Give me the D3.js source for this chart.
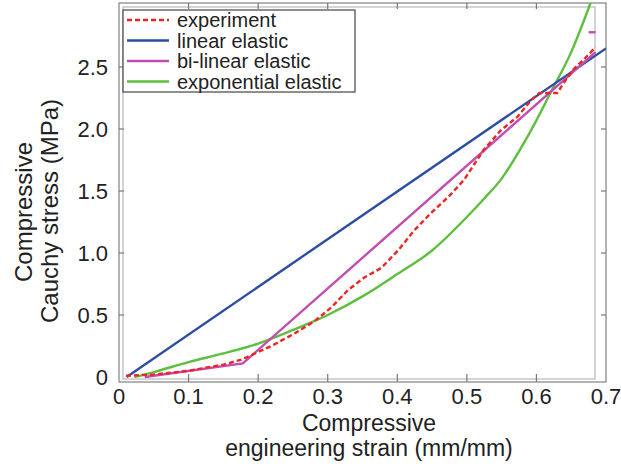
<!DOCTYPE html>
<html><head><meta charset="utf-8">
<script src="https://cdn.jsdelivr.net/npm/d3@7"></script>
<style>body{margin:0;background:#fff}svg{display:block}text{font-family:"Liberation Sans",Arial,sans-serif;fill:#222}</style>
</head><body><svg id="c" width="621" height="467"></svg>
<script>
const xTicks = [0, 0.1, 0.2, 0.3, 0.4, 0.5, 0.6, 0.7];
const xTickLabels = ["0", "0.1", "0.2", "0.3", "0.4", "0.5", "0.6", "0.7"];
const yTicks = [0, 0.5, 1.0, 1.5, 2.0, 2.5];
const yTickLabels = ["0", "0.5", "1.0", "1.5", "2.0", "2.5"];

const experimentX = [0.010,0.050,0.100,0.150,0.176,0.219,0.252,0.281,0.305,0.329,0.352,0.377,0.401,0.424,0.448,0.473,0.496,0.524,0.549,0.573,0.592,0.604,0.630,0.639,0.653,0.668,0.685];
const experimentY = [0.01,0.02,0.05,0.10,0.14,0.25,0.35,0.45,0.56,0.70,0.80,0.88,1.02,1.18,1.32,1.45,1.59,1.83,1.99,2.10,2.23,2.29,2.29,2.37,2.48,2.56,2.66];
const linearX = [0.011, 0.700];
const linearY = [0.00, 2.65];
const bilinearX = [0.037, 0.178, 0.685];
const bilinearY = [0.00, 0.11, 2.62];
const bilinearTailX = [0.675, 0.685];
const bilinearTailY = [2.78, 2.78];
const exponentialX = [0.022,0.050,0.100,0.150,0.200,0.250,0.300,0.350,0.400,0.450,0.500,0.525,0.550,0.575,0.600,0.620,0.650,0.680];
const exponentialY = [0.00,0.04,0.12,0.19,0.27,0.38,0.50,0.65,0.83,1.02,1.29,1.44,1.60,1.82,2.07,2.29,2.62,3.05];

const seriesNames = ["experiment", "linear elastic", "bi-linear elastic", "exponential elastic"];
const seriesColors = ["#f02424", "#2b4da3", "#c04db0", "#5cbf3f"];

const svg = d3.select("#c");
const outer = {l:119, r:606, t:3, b:382};
const inner = {l:123, r:595, t:7, b:379};
const x = d3.scaleLinear().domain([0, 0.7]).range([outer.l, outer.r]);
const y = d3.scaleLinear().domain([0, 3]).range([377, 5]);

svg.append("defs").append("clipPath").attr("id","clip")
  .append("rect").attr("x",outer.l).attr("y",outer.t).attr("width",outer.r-outer.l).attr("height",outer.b-outer.t);

// frames
svg.append("rect").attr("x",inner.l).attr("y",inner.t).attr("width",inner.r-inner.l).attr("height",inner.b-inner.t)
  .attr("fill","none").attr("stroke","#b8b8b8").attr("stroke-width",1.2);
svg.append("rect").attr("x",outer.l).attr("y",outer.t).attr("width",outer.r-outer.l).attr("height",outer.b-outer.t)
  .attr("fill","none").attr("stroke","#8a8a8a").attr("stroke-width",1.3);

// ticks
const tk = svg.append("g").attr("stroke","#777").attr("stroke-width",1.2);
xTicks.slice(1,-1).forEach(v=>{
  tk.append("line").attr("x1",x(v)).attr("x2",x(v)).attr("y1",outer.b).attr("y2",outer.b-8);
  tk.append("line").attr("x1",x(v)).attr("x2",x(v)).attr("y1",outer.t).attr("y2",outer.t+6);
});
yTicks.slice(1).forEach(v=>{
  tk.append("line").attr("x1",outer.l).attr("x2",outer.l+5).attr("y1",y(v)).attr("y2",y(v));
  tk.append("line").attr("x1",outer.r).attr("x2",outer.r-5).attr("y1",y(v)).attr("y2",y(v));
});

// tick labels
svg.append("g").selectAll("text").data(xTicks).join("text")
  .attr("x",d=>x(d)).attr("y",404).attr("text-anchor","middle").attr("font-size",22)
  .text((d,i)=>xTickLabels[i]);
svg.append("g").selectAll("text").data(yTicks).join("text")
  .attr("x",108).attr("y",d=>y(d)+8).attr("text-anchor","end").attr("font-size",22)
  .text((d,i)=>yTickLabels[i]);

// axis titles
svg.append("text").attr("x",369).attr("y",431).attr("text-anchor","middle").attr("font-size",23).text("Compressive");
svg.append("text").attr("x",369).attr("y",456).attr("text-anchor","middle").attr("font-size",23).text("engineering strain (mm/mm)");
svg.append("text").attr("transform","translate(32,212) rotate(-90)").attr("text-anchor","middle").attr("font-size",24).text("Compressive");
svg.append("text").attr("transform","translate(58,211) rotate(-90)").attr("text-anchor","middle").attr("font-size",24).text("Cauchy stress (MPa)");

// lines
const line = d3.line().x(d=>x(d[0])).y(d=>y(d[1]));
const smooth = d3.line().x(d=>x(d[0])).y(d=>y(d[1])).curve(d3.curveMonotoneX);
const g = svg.append("g").attr("clip-path","url(#clip)").attr("fill","none").attr("stroke-width",2.4);
const zip = (a,b)=>a.map((v,i)=>[v,b[i]]);
g.append("path").attr("d",smooth(zip(exponentialX,exponentialY))).attr("stroke",seriesColors[3]);
g.append("path").attr("d",line(zip(linearX,linearY))).attr("stroke",seriesColors[1]);
g.append("path").attr("d",line(zip(bilinearX,bilinearY))).attr("stroke",seriesColors[2]);
g.append("path").attr("d",line(zip(bilinearTailX,bilinearTailY))).attr("stroke",seriesColors[2]);
g.append("path").attr("d",line(zip(experimentX,experimentY))).attr("stroke",seriesColors[0]).attr("stroke-dasharray","5,3");

// legend
const lg = svg.append("g");
lg.append("rect").attr("x",123).attr("y",10).attr("width",232).attr("height",82).attr("fill","#fff").attr("stroke","#444").attr("stroke-width",1.2);
seriesNames.forEach((n,i)=>{
  const yy = 20 + i*20.5;
  lg.append("line").attr("x1",127).attr("x2",169).attr("y1",yy).attr("y2",yy)
    .attr("stroke",seriesColors[i]).attr("stroke-width",2.4).attr("stroke-dasharray",i===0?"5,3":null);
  lg.append("text").attr("x",177).attr("y",yy+7).attr("font-size",20).attr("textLength",null).text(n);
});
</script></body></html>
